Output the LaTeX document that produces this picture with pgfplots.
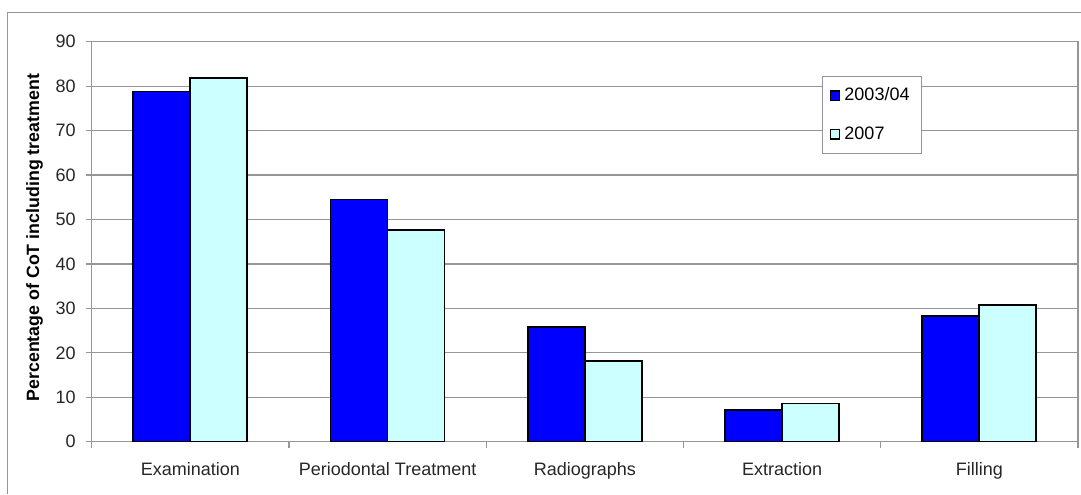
\documentclass[border=0pt]{standalone}
\usepackage{pgfplots}
\pgfplotsset{compat=1.18}
\usepackage{fontspec}
\setmainfont{Liberation Sans}

\definecolor{bardark}{RGB}{0,0,255}
\definecolor{barlight}{RGB}{204,255,255}
\definecolor{gridgray}{RGB}{150,150,150}

\begin{document}
\begin{tikzpicture}
  \begin{axis}[
      at={(0pt,0pt)}, anchor=south west,
      scale only axis,
      width=493.15pt, height=200pt,
      ybar=0pt, bar width=28.5pt,
      xmin=0.5, xmax=5.5,
      ymin=0, ymax=90,
      xtick={1,2,3,4,5},
      xticklabels={Examination, Periodontal Treatment, Radiographs, Extraction, Filling},
      major x tick style={draw=none},
      minor xtick={0.5,1.5,2.5,3.5,4.5,5.5},
      ytick={0,10,...,90},
      xtick pos=bottom, ytick pos=left,
      tick align=outside,
      major tick length=3pt, minor tick length=3pt,
      tick style={gridgray, line width=0.6pt},
      ymajorgrids=true,
      grid style={gridgray, line width=0.6pt},
      axis line style={gridgray, line width=0.6pt},
      tick label style={font=\fontsize{9}{10.8}\selectfont, text=black!85},
      /pgf/number format/assume math mode=true,
      xticklabel style={yshift=-4pt},
      yticklabel style={xshift=-1.5pt},
      ylabel={Percentage of CoT including treatment},
      ylabel style={font=\bfseries\fontsize{8.9}{10.7}\selectfont, at={(axis description cs:-0.058,0.51)}, anchor=center},
      legend cell align=left,
      legend image code/.code={\draw[#1, draw=black, line width=0.6pt] (0pt,-2.3pt) rectangle (4.6pt,2.3pt);},
      legend style={
        at={(rel axis cs:0.740,0.914)}, anchor=north west,
        draw=gridgray, fill=white, line width=0.5pt,
        font=\fontsize{9}{10.8}\selectfont,
        inner xsep=4pt, inner ysep=3.5pt, row sep=7.5pt,
        /tikz/every even column/.append style={column sep=2pt},
      },
    ]

    \addplot[fill=bardark, draw=black, line width=0.9pt]
    coordinates {
        (1, 78.8)
        (2, 54.5)
        (3, 25.8)
        (4, 7.1)
        (5, 28.3)
      };
    \addlegendentry{2003/04}

    \addplot[fill=barlight, draw=black, line width=0.9pt]
    coordinates {
        (1, 81.8)
        (2, 47.7)
        (3, 18.2)
        (4, 8.6)
        (5, 30.8)
      };
    \addlegendentry{2007}

  \end{axis}
  % outer chart frame (left and top edges)
  \draw[gridgray, line width=0.6pt] (-42.2pt,-26.15pt) -- (-42.2pt,214.7pt) -- (494.65pt,214.7pt);
  \pgfresetboundingbox
  \useasboundingbox (-45.85pt,-26.15pt) rectangle (494.65pt,220.85pt);
\end{tikzpicture}
\end{document}
